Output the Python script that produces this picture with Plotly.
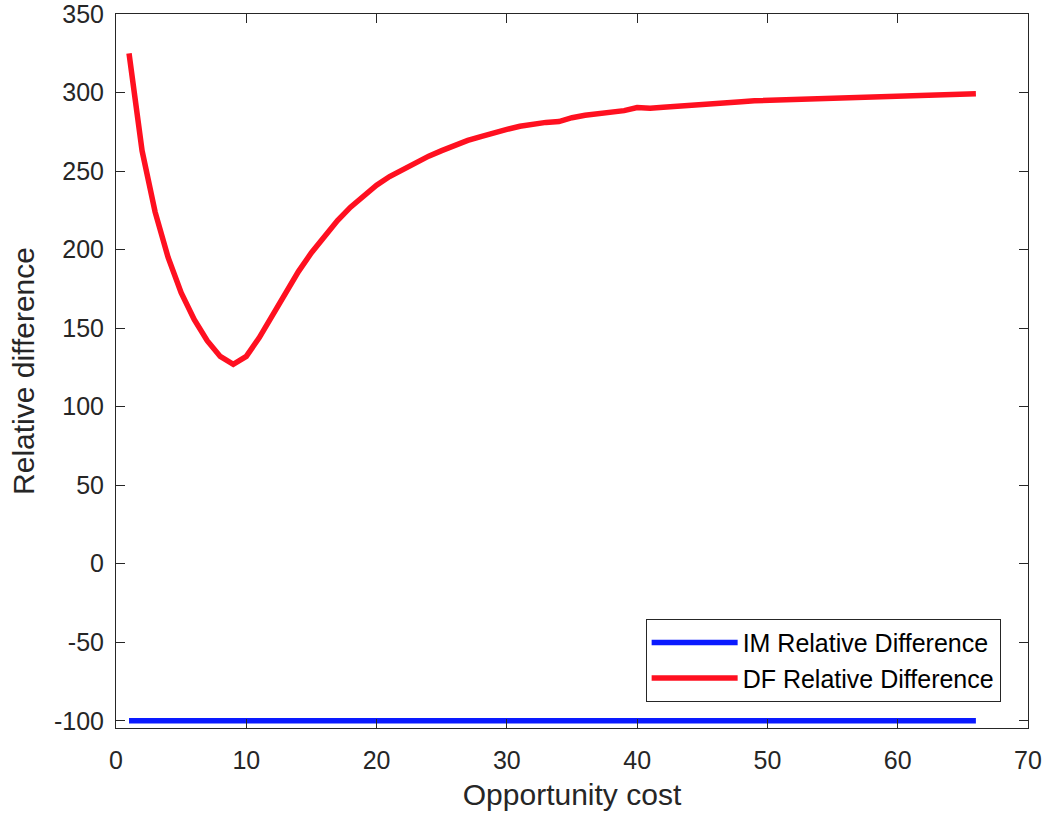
import plotly.graph_objects as go

opportunity_cost = list(range(1, 67))
im_relative_difference = [-100] * 66
df_relative_difference = [
    325, 263, 224, 195, 172.5, 155.5, 142, 132, 127, 132,
    144, 158.5, 172.5, 186, 198, 208.5, 218.5, 227, 234.5, 241,
    246.5, 251, 255.5, 259.5, 263, 266.5, 269.5, 272, 274.5, 276.5,
    278.5, 280, 281, 281.5, 284, 285.5, 286.5, 287.5, 288.5, 290.5,
    290, 290.7, 291.4, 292, 292.5, 293, 293.5, 294.2, 294.7, 295,
    295.35, 295.7, 296.05, 296.4, 296.7, 297, 297.3, 297.55, 297.8, 298.05,
    298.3, 298.5, 298.7, 298.9, 299.1, 299.3,
]
x_ticks = [0, 10, 20, 30, 40, 50, 60, 70]
y_ticks = [-100, -50, 0, 50, 100, 150, 200, 250, 300, 350]
y_tick_labels = [str(v) for v in y_ticks]

FONT = "Arial, Liberation Sans, Helvetica, sans-serif"
AX = "#262626"

fig = go.Figure()
fig.add_trace(go.Scatter(x=opportunity_cost, y=im_relative_difference, mode="lines",
                         name="IM Relative Difference",
                         line=dict(color="#0a1aff", width=5.5)))
fig.add_trace(go.Scatter(x=opportunity_cost, y=df_relative_difference, mode="lines",
                         name="DF Relative Difference",
                         line=dict(color="#ff1020", width=5.5)))

axis_common = dict(showline=True, linecolor=AX, linewidth=1, mirror="ticks",
                   ticks="inside", ticklen=9, tickcolor=AX, tickwidth=1,
                   showgrid=False, zeroline=False, ticklabeloverflow="allow",
                   automargin=False,
                   tickfont=dict(family=FONT, size=25, color=AX))

fig.update_layout(
    width=1047, height=819,
    margin=dict(l=116, r=19, t=14, b=91),
    paper_bgcolor="white", plot_bgcolor="white",
    xaxis=dict(range=[0, 70], tickvals=x_ticks, ticklabelstandoff=10,
               title=dict(text="Opportunity cost", font=dict(family=FONT, size=30, color=AX), standoff=10),
               **axis_common),
    yaxis=dict(range=[-104.6, 350.01], tickvals=y_ticks, ticktext=y_tick_labels,
               ticklabelstandoff=6,
               title=dict(text="Relative difference", font=dict(family=FONT, size=30, color=AX), standoff=10),
               **axis_common),
    legend=dict(x=0.970, y=0.0366, xanchor="right", yanchor="bottom",
                bordercolor=AX, borderwidth=1, bgcolor="white",
                font=dict(family=FONT, size=25, color="black"),
                itemwidth=86, tracegroupgap=0),
    showlegend=True,
)

fig.write_html("out.html")
